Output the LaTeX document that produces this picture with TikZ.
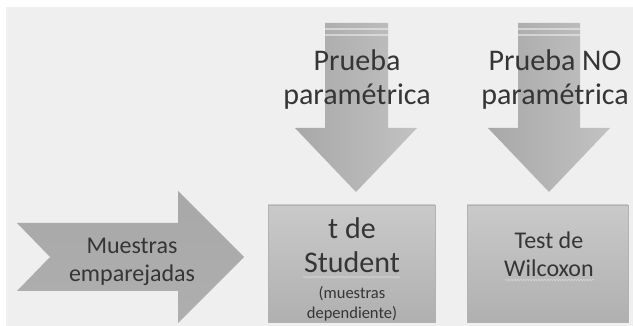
\documentclass[tikz,border=0pt]{standalone}
\usepackage{fontspec}
\setmainfont{Carlito}
\usetikzlibrary{shadows,decorations.pathmorphing}
\definecolor{bg}{HTML}{EFEFEF}
\definecolor{txt}{HTML}{353535}
\definecolor{shA}{HTML}{A8A8A8}
\definecolor{shB}{HTML}{C2C2C2}
\begin{document}
\begin{tikzpicture}[x=1pt,y=-1pt,
  blockarrow/.style={left color=shA,right color=shB,draw=none},
  leftarrow/.style={top color=shA,bottom color=shB!90!black,draw=none},
  resultbox/.style={draw=gray!60,line width=0.6pt,top color=gray!42!white,bottom color=gray!62!white,
     drop shadow={opacity=0.25,shadow xshift=0.8pt,shadow yshift=-1.5pt}},
  bigtext/.style={text=txt,align=center,font=\fontsize{30}{34}\selectfont},
  midtext/.style={text=txt,align=center,font=\fontsize{24}{28}\selectfont},
  smalltext/.style={text=txt,align=center,font=\fontsize{16.5}{20}\selectfont},
  squiggle/.style={draw=gray!35!white,line width=0.7pt,decorate,decoration={snake,amplitude=0.8pt,segment length=3pt}},
  stripe/.style={draw=white,opacity=0.45,line width=1.2pt}
]
\useasboundingbox (0,0) rectangle (633,326);
\fill[white] (0,0) rectangle (633,326);
\fill[bg] (6,7) rectangle (633,326);

% left notched arrow
\path[leftarrow] (17,223) -- (178,223) -- (178,191) -- (244,257) -- (178,323) -- (178,291) -- (17,291) -- (50,257) -- cycle;
\node[midtext] (muestras) at (132,262) {Muestras\\emparejadas};

% down arrows
\path[blockarrow] (325,23) -- (388,23) -- (388,128) -- (417,128) -- (356,192) -- (295,128) -- (325,128) -- cycle;
\path[blockarrow] (518,23) -- (580,23) -- (580,128) -- (610,128) -- (549,192) -- (488,128) -- (518,128) -- cycle;
\draw[stripe] (325,29) -- (388,29) (325,35) -- (388,35);
\draw[stripe] (518,29) -- (580,29) (518,35) -- (580,35);
\node[bigtext] (param) at (357,80) {Prueba\\paramétrica};
\node[bigtext] (noparam) at (555,80) {Prueba NO\\paramétrica};

% boxes
\path[resultbox] (268,205) rectangle (435,322);
\path[resultbox] (467,205) rectangle (628,322);
\coordinate (box1) at (351.5,263.5);
\coordinate (box2) at (547.5,263.5);
\node[bigtext] (tstudent) at (352,245) {t de\\Student};
\node[smalltext] (nota) at (352,304) {(muestras\\dependiente)};
\node[midtext] (wilcoxon) at (549,254) {Test de\\Wilcoxon};
\draw[squiggle] (303,277) -- (400,277);
\draw[squiggle] (505,280) -- (594,280);
\end{tikzpicture}
\end{document}
